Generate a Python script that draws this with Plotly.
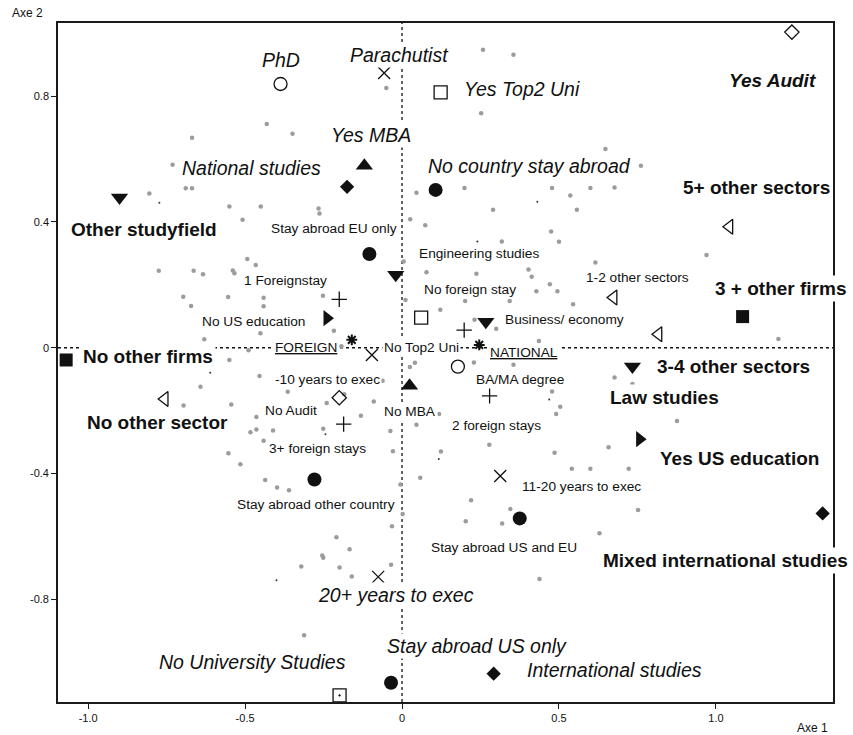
import plotly.graph_objects as go

# ---------------------------------------------------------------
# Correspondence analysis map: modalities on axes 1 and 2
# ---------------------------------------------------------------

# Degree level
degree_labels = ["PhD", "BA/MA degree"]
degree_x = [-0.387, 0.178]
degree_y = [0.839, -0.060]

# Years before reaching executive position
years_labels = ["Parachutist", "-10 years to exec", "11-20 years to exec", "20+ years to exec"]
years_x = [-0.057, -0.096, 0.313, -0.076]
years_y = [0.874, -0.023, -0.408, -0.729]

# Top-2 university
top2_labels = ["Yes Top2 Uni", "No Top2 Uni"]
top2_x = [0.123, 0.061]
top2_y = [0.812, 0.096]

nouni_labels = ["No University Studies"]
nouni_x = [-0.199]
nouni_y = [-1.106]

# Audit background
audit_labels = ["Yes Audit", "No Audit"]
audit_x = [1.242, -0.200]
audit_y = [1.004, -0.159]

# MBA
mba_labels = ["Yes MBA", "No MBA"]
mba_x = [-0.120, 0.024]
mba_y = [0.579, -0.121]

# Type of studies
studytype_labels = ["National studies", "International studies", "Mixed international studies"]
studytype_x = [-0.175, 0.292, 1.340]
studytype_y = [0.512, -1.037, -0.527]

# Field of study
field_labels = ["Other studyfield", "Engineering studies", "Business/ economy", "Law studies"]
field_x = [-0.900, -0.020, 0.267, 0.734]
field_y = [0.478, 0.232, 0.083, -0.060]

# Country of stays abroad
stay_labels = ["No country stay abroad", "Stay abroad EU only", "Stay abroad other country",
               "Stay abroad US and EU", "Stay abroad US only"]
stay_x = [0.107, -0.104, -0.279, 0.375, -0.035]
stay_y = [0.502, 0.298, -0.419, -0.543, -1.066]

# Number of other sectors
sectors_labels = ["No other sector", "1-2 other sectors", "3-4 other sectors", "5+ other sectors"]
sectors_x = [-0.756, 0.674, 0.817, 1.043]
sectors_y = [-0.163, 0.160, 0.043, 0.385]

# Number of foreign stays
foreign_labels = ["No foreign stay", "1 Foreignstay", "2 foreign stays", "3+ foreign stays"]
foreign_x = [0.198, -0.200, 0.279, -0.186]
foreign_y = [0.056, 0.154, -0.153, -0.243]

# US education
us_labels = ["No US education", "Yes US education"]
us_x = [-0.239, 0.757]
us_y = [0.094, -0.291]

# Number of other firms
firms_labels = ["No other firms", "3 + other firms"]
firms_x = [-1.070, 1.085]
firms_y = [-0.039, 0.099]

# Nationality (supplementary)
nation_labels = ["FOREIGN", "NATIONAL"]
nation_x = [-0.160, 0.246]
nation_y = [0.025, 0.009]

# Individuals
indiv_x = [-0.050, -0.431, -0.349, -0.669, -0.731, -0.805, -0.689, -0.669, -0.550, -0.450,
           -0.266, -0.263, -0.508, 0.046, 0.026, 0.074, 0.258, 0.355, 0.252, 0.648,
           0.761, 0.199, 0.478, 0.536, 0.600, 0.677, 0.290, 0.557, 0.475, 0.500,
           0.318, 0.970, 1.199, 0.677, 0.734, -0.493, -0.466, -0.775, -0.664, -0.634,
           -0.539, -0.534, -0.697, -0.672, -0.554, -0.441, -0.441, -0.252, -0.630, -0.451,
           -0.217, -0.489, -0.550, -0.454, -0.642, -0.696, -0.544, -0.364, -0.240, -0.184,
           -0.131, -0.090, -0.062, -0.464, -0.483, -0.464, -0.411, -0.251, -0.441, -0.553,
           -0.515, -0.037, -0.029, 0.025, 0.041, 0.046, 0.058, 0.078, 0.011, -0.436,
           -0.398, -0.360, 0.118, 0.124, -0.005, 0.002, -0.032, -0.209, -0.167, -0.254,
           -0.251, -0.321, -0.199, -0.160, -0.035, -0.312, 0.220, 0.203, 0.345, 0.319,
           0.752, 0.629, 0.438, 0.237, 0.403, 0.413, 0.616, 0.428, 0.471, 0.495,
           0.122, 0.201, 0.343, 0.545, 0.231, 0.300, 0.436, 0.229, 0.355, 0.478,
           0.504, 0.491, 0.876, 0.278, 0.486, 0.658, 0.541, 0.600, 0.722, 0.005,
           -0.193]
indiv_y = [0.826, 0.712, 0.681, 0.668, 0.582, 0.491, 0.507, 0.507, 0.449, 0.449,
           0.443, 0.427, 0.407, 0.493, 0.409, 0.390, 0.948, 0.932, 0.746, 0.632,
           0.579, 0.508, 0.508, 0.484, 0.508, 0.510, 0.439, 0.439, 0.370, 0.337,
           0.338, 0.295, 0.028, -0.095, -0.115, 0.282, 0.263, 0.245, 0.245, 0.234,
           0.246, 0.237, 0.162, 0.133, 0.161, 0.159, 0.132, 0.165, 0.027, 0.046,
           0.054, -0.008, -0.039, -0.090, -0.124, -0.184, -0.181, -0.140, -0.176, -0.148,
           -0.216, -0.171, -0.105, -0.220, -0.269, -0.260, -0.263, -0.258, -0.296, -0.336,
           -0.371, -0.265, -0.329, -0.061, -0.048, -0.245, -0.414, 0.240, 0.152, -0.421,
           -0.445, -0.453, -0.211, -0.330, -0.435, -0.529, -0.568, -0.603, -0.641, -0.661,
           -0.668, -0.696, -0.699, -0.728, -0.690, -0.915, -0.485, -0.552, -0.513, -0.559,
           -0.516, -0.590, -0.736, 0.235, 0.249, 0.226, 0.271, 0.180, 0.202, 0.180,
           0.121, 0.149, 0.149, 0.138, 0.089, 0.060, 0.021, -0.047, -0.054, -0.139,
           -0.188, -0.211, -0.233, -0.309, -0.334, -0.317, -0.385, -0.385, -0.385, 0.274,
           0.005]

# Individuals plotted with a very small weight
minor_x = [-0.773, 0.431, -0.611, -0.400, 0.469, 0.117, -0.244, 0.240]
minor_y = [0.461, 0.464, -0.080, -0.740, -0.165, -0.354, -0.275, 0.338]

x_ticks = [-1.0, -0.5, 0.0, 0.5, 1.0]
x_ticktext = ["-1.0", "-0.5", "0", "0.5", "1.0"]
y_ticks = [-0.8, -0.4, 0.0, 0.4, 0.8]
y_ticktext = ["-0.8", "-0.4", "0", "0.4", "0.8"]

# ---------------------------------------------------------------
# Styling
# ---------------------------------------------------------------
FONT = "Liberation Sans, Arial, sans-serif"
INK = "#111111"

# (labels, xs, ys, plotly symbol, size, filled?)
groups = [
    (degree_labels, degree_x, degree_y, "circle-open", 13, False),
    (years_labels, years_x, years_y, "x-thin-open", 12, False),
    (top2_labels, top2_x, top2_y, "square-open", 13, False),
    (nouni_labels, nouni_x, nouni_y, "square-open-dot", 13, False),
    (audit_labels, audit_x, audit_y, "diamond-open", 11, False),
    (mba_labels, mba_x, mba_y, "triangle-up", 15, True),
    (studytype_labels, studytype_x, studytype_y, "diamond", 11, True),
    (field_labels, field_x, field_y, "triangle-down", 15, True),
    (stay_labels, stay_x, stay_y, "circle", 14, True),
    (sectors_labels, sectors_x, sectors_y, "triangle-left-open", 13, False),
    (foreign_labels, foreign_x, foreign_y, "cross-thin-open", 11, False),
    (us_labels, us_x, us_y, "triangle-right", 14, True),
    (firms_labels, firms_x, firms_y, "square", 13, True),
    (nation_labels, nation_x, nation_y, "asterisk-open", 9, False),
]

# label placement (pixel offset from the point) and text style
label_fmt = {
    "PhD": (0, 24, "italic"),
    "Parachutist": (15, 18, "italic"),
    "Yes Top2 Uni": (81, 3, "italic"),
    "Yes Audit": (-19, -48, "bolditalic"),
    "Yes MBA": (7, 31, "italic"),
    "National studies": (-96, 19, "italic"),
    "Other studyfield": (24, -32, "bold"),
    "No country stay abroad": (94, 24, "italic"),
    "5+ other sectors": (27, 39, "bold"),
    "Stay abroad EU only": (-35, 26, "small"),
    "Engineering studies": (83, 21, "small"),
    "1 Foreignstay": (-54, 19, "small"),
    "No US education": (-74, -3, "small"),
    "FOREIGN": (-46, -8, "under"),
    "-10 years to exec": (-44, -25, "small"),
    "No Top2 Uni": (0, -30, "small"),
    "No MBA": (0, -26, "small"),
    "Business/ economy": (79, 2, "small"),
    "No foreign stay": (6, 41, "small"),
    "NATIONAL": (45, -8, "under"),
    "BA/MA degree": (62, -13, "small"),
    "2 foreign stays": (7, -30, "small"),
    "1-2 other sectors": (24, 20, "small"),
    "3-4 other sectors": (75, -32, "bold"),
    "Law studies": (32, -31, "bold"),
    "3 + other firms": (38, 28, "bold"),
    "No other firms": (82, 3, "bold"),
    "No other sector": (-7, -24, "bold"),
    "No Audit": (-48, -13, "small"),
    "3+ foreign stays": (-26, -24, "small"),
    "Stay abroad other country": (2, -25, "small"),
    "Yes US education": (100, -19, "bold"),
    "11-20 years to exec": (81, -11, "small"),
    "Stay abroad US and EU": (-16, -29, "small"),
    "Mixed international studies": (-97, -47, "bold"),
    "20+ years to exec": (18, -18, "italic"),
    "Stay abroad US only": (86, 37, "italic"),
    "No University Studies": (-87, 33, "italic"),
    "International studies": (121, 4, "italic"),
}

text_styles = {
    "bold": dict(size=19, weight="bold", style="normal"),
    "bolditalic": dict(size=19, weight="bold", style="italic"),
    "italic": dict(size=19.5, weight="normal", style="italic"),
    "small": dict(size=13.7, weight="normal", style="normal"),
    "under": dict(size=13.7, weight="normal", style="normal", lineposition="under"),
}

fig = go.Figure()

# individuals (light cloud)
fig.add_trace(go.Scatter(
    x=indiv_x, y=indiv_y, mode="markers", hoverinfo="skip",
    marker=dict(symbol="circle", size=4.5, color="#9c9c9c", line=dict(width=0)),
    showlegend=False,
))
fig.add_trace(go.Scatter(
    x=minor_x, y=minor_y, mode="markers", hoverinfo="skip",
    marker=dict(symbol="circle", size=2, color="#333333", line=dict(width=0)),
    showlegend=False,
))

annotations = []
for labels, xs, ys, symbol, size, filled in groups:
    marker = dict(symbol=symbol, size=size, color=INK,
                  line=dict(width=1.3 if not filled else 0, color=INK))
    if symbol.startswith("asterisk"):
        marker["line"] = dict(width=2.0, color=INK)
    fig.add_trace(go.Scatter(
        x=xs, y=ys, mode="markers", text=labels, hoverinfo="text",
        marker=marker, showlegend=False, cliponaxis=False,
    ))
    for lab, xv, yv in zip(labels, xs, ys):
        dx, dy, kind = label_fmt[lab]
        st = text_styles[kind]
        annotations.append(dict(
            x=xv, y=yv, xref="x", yref="y", text=lab, showarrow=False,
            xshift=dx, yshift=dy, xanchor="center", yanchor="middle",
            bgcolor="white", borderpad=2 if kind.startswith("bold") else 1,
            font=dict(family=FONT, color=INK, **st),
        ))

# axis titles
annotations.append(dict(text="Axe 2", xref="paper", yref="paper", x=-0.062, y=1.0147,
                        xanchor="left", yanchor="middle", showarrow=False,
                        font=dict(family=FONT, size=12, color=INK)))
annotations.append(dict(text="Axe 1", xref="paper", yref="paper", x=0.996, y=-0.038,
                        xanchor="right", yanchor="middle", showarrow=False,
                        font=dict(family=FONT, size=12, color=INK)))

# dashed reference axes through the origin
shapes = [
    dict(type="line", xref="x", yref="paper", x0=0, x1=0, y0=0, y1=1,
         line=dict(color=INK, width=1.3, dash="3px,3px"), layer="below"),
    dict(type="line", xref="paper", yref="y", x0=0, x1=1, y0=0, y1=0,
         line=dict(color=INK, width=1.3, dash="3px,3px"), layer="below"),
]

axis_common = dict(
    showgrid=False, zeroline=False, showline=True, mirror=True,
    linecolor="#1a1a1a", linewidth=1.6,
    ticks="outside", ticklen=5, tickwidth=1.4, tickcolor="#1a1a1a",
    tickfont=dict(family=FONT, size=11, color=INK),
)

fig.update_layout(
    width=853, height=735,
    margin=dict(l=58, r=20, t=23, b=33),
    paper_bgcolor="white", plot_bgcolor="white",
    xaxis=dict(range=[-1.096, 1.373], tickvals=x_ticks, ticktext=x_ticktext, **axis_common),
    yaxis=dict(range=[-1.127, 1.033], tickvals=y_ticks, ticktext=y_ticktext, **axis_common),
    annotations=annotations,
    shapes=shapes,
    showlegend=False,
)

fig.write_html("out.html")
